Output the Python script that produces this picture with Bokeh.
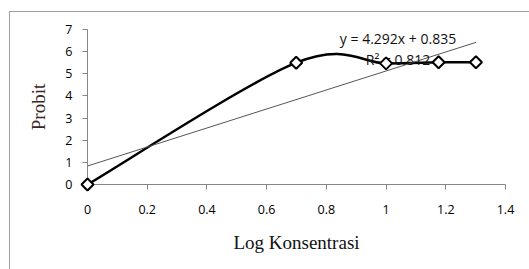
import numpy as np
from bokeh.plotting import figure
from bokeh.models import Range1d, Label, FixedTicker
from bokeh.embed import file_html
from bokeh.resources import INLINE

# Data
log_konsentrasi = [0.0, 0.699, 1.0, 1.176, 1.301]
probit = [0.0, 5.50, 5.47, 5.52, 5.52]
slope = 4.292
intercept = 0.835
r_squared = 0.812
x_ticks = [0, 0.2, 0.4, 0.6, 0.8, 1.0, 1.2, 1.4]
y_ticks = [0, 1, 2, 3, 4, 5, 6, 7]

p = figure(width=529, height=269, output_backend="svg", toolbar_location=None,
           x_range=Range1d(0, 1.4), y_range=Range1d(0, 7),
           min_border_left=87, min_border_right=24, min_border_top=29, min_border_bottom=85)
p.background_fill_color = "white"
p.border_fill_alpha = 0
p.outline_line_color = None
p.grid.visible = False
p.styles = {
    "background": "linear-gradient(#a0a0a0,#a0a0a0) 9px 11px / 1px 100% no-repeat, "
                  "linear-gradient(#a0a0a0,#a0a0a0) 9px 11px / 100% 1px no-repeat, white"
}

tick_font = "Open Sans"
for ax in (p.xaxis[0], p.yaxis[0]):
    ax.axis_line_color = "#868686"
    ax.major_tick_line_color = "#868686"
    ax.minor_tick_line_color = None
    ax.major_tick_out = 5
    ax.major_tick_in = 0
    ax.major_label_text_font = tick_font
    ax.major_label_text_font_size = "12.5px"
    ax.major_label_text_color = "#000000"
    ax.axis_label_text_font = "Liberation Serif"
    ax.axis_label_text_font_size = "19px"
    ax.axis_label_text_font_style = "normal"

p.xaxis.ticker = FixedTicker(ticks=x_ticks)
p.yaxis.ticker = FixedTicker(ticks=y_ticks)
p.xaxis.major_label_overrides = {0: "0", 1.0: "1"}
p.xaxis.axis_label = "Log Konsentrasi"
p.yaxis.axis_label = "Probit"
p.xaxis.axis_label_text_color = "#111111"
p.yaxis.axis_label_text_color = "#3a2424"
p.xaxis.major_label_standoff = 15
p.yaxis.major_label_standoff = 10
p.xaxis.axis_label_standoff = 15
p.yaxis.axis_label_standoff = 13

# Smoothed line (Catmull-Rom style Bezier, like a spreadsheet smooth line)
x = np.array(log_konsentrasi)
y = np.array(probit)
n = len(x)
xe = np.concatenate([[x[0]], x, [x[-1]]])
ye = np.concatenate([[y[0]], y, [y[-1]]])
x0, y0, x1, y1, cx0, cy0, cx1, cy1 = [], [], [], [], [], [], [], []
for i in range(n - 1):
    a = i + 1
    x0.append(xe[a]); y0.append(ye[a])
    x1.append(xe[a + 1]); y1.append(ye[a + 1])
    cx0.append(xe[a] + (xe[a + 1] - xe[a - 1]) / 6)
    cy0.append(ye[a] + (ye[a + 1] - ye[a - 1]) / 6)
    cx1.append(xe[a + 1] - (xe[a + 2] - xe[a]) / 6)
    cy1.append(ye[a + 1] - (ye[a + 2] - ye[a]) / 6)
p.bezier(x0=x0, y0=y0, x1=x1, y1=y1, cx0=cx0, cy0=cy0, cx1=cx1, cy1=cy1,
         line_color="black", line_width=2.5)

# Linear trend line
tx = [x.min(), x.max()]
ty = [slope * v + intercept for v in tx]
p.line(tx, ty, line_color="#555555", line_width=1)

# Markers
r = p.scatter(x, y, marker="square", size=8.5, angle=np.pi / 4,
              fill_color="white", line_color="black", line_width=2)
r.level = "overlay"

# Trend equation label
p.add_layout(Label(x=1.04, y=6.6, text=f"y = {slope}x + {intercept}",
                   text_font=tick_font, text_font_size="14px", text_color="#111111",
                   text_align="center", text_baseline="middle"))
p.add_layout(Label(x=1.04, y=5.65, text=f"R² = {r_squared}",
                   text_font=tick_font, text_font_size="14px", text_color="#111111",
                   text_align="center", text_baseline="middle"))

open("out.html", "w").write(file_html(p, INLINE))
